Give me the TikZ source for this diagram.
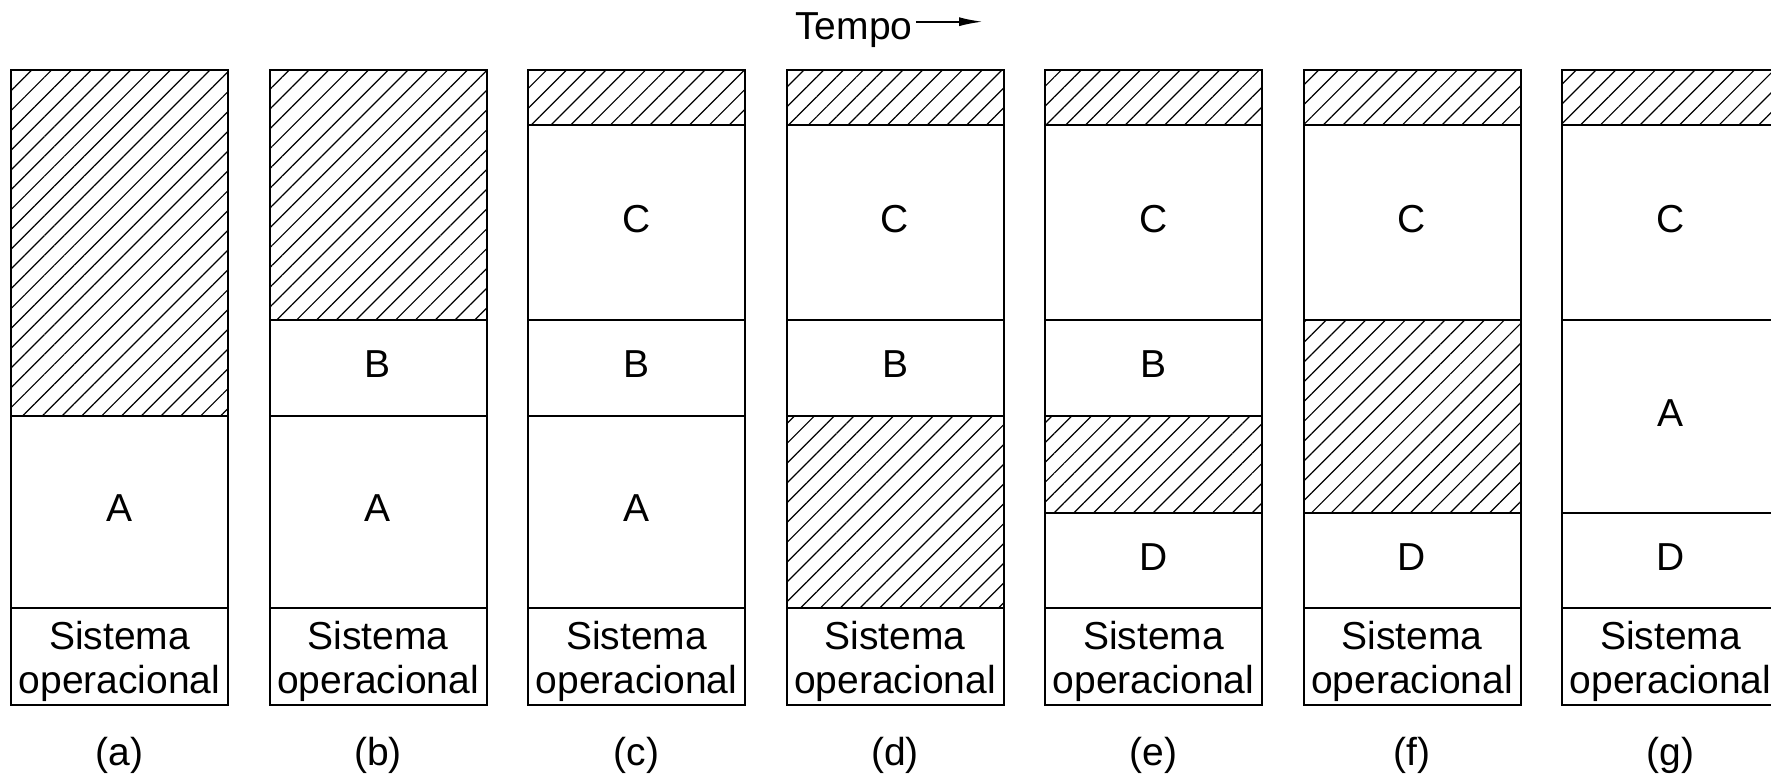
\documentclass[tikz,border=0pt]{standalone}
\usepackage{fontspec}
\setmainfont{Liberation Sans}
\usetikzlibrary{positioning,patterns.meta,arrows.meta}

\begin{document}
\begin{tikzpicture}[
    font=\fontsize{19.5}{22}\selectfont,
    % Define styles for the memory blocks
    seg/.style={
        rectangle,
        draw,
        line width=1pt,
        minimum width=108.5pt,
        inner sep=0pt,
        outer sep=0pt,
        text centered
    },
    proc/.style={
        seg,
        text depth=3.4pt
    },
    livre/.style={
        seg,
        pattern={Lines[angle=45,distance=7pt,line width=0.6pt]}
    },
    so/.style={
        seg,
        minimum height=48.5pt,
        align=center
    },
    rotulo/.style={
        anchor=base,
        inner sep=0pt
    },
    seta/.style={
        draw,
        line width=1pt,
        -{Latex[length=12pt,width=4.5pt]}
    }
]
\useasboundingbox (0,0) rectangle (885.5pt,-387.5pt);

% Time arrow
\node[anchor=base west, inner sep=1.5pt] (tempo) at (396pt,-20pt) {Tempo};
\coordinate (tempofim) at (491.5pt,-10.85pt);
\draw[seta] (tempo.east |- tempofim) -- (tempofim);

% (a)
\node[livre, minimum height=172.75pt, anchor=north west] (a1) at (5.5pt,-35pt) {};
\node[proc, minimum height=96.25pt, below=0pt of a1] (a2) {A};
\node[so, below=0pt of a2] (a3) {\rule{0pt}{19.4pt}Sistema\\operacional};
\node[below=30pt of a3, rotulo] (la) {(a)};

% (b)
\node[livre, minimum height=124.75pt, right=20.75pt of a1.north east, anchor=north west] (b1) {};
\node[proc, minimum height=48pt, below=0pt of b1] (b2) {B};
\node[proc, minimum height=96.25pt, below=0pt of b2] (b3) {A};
\node[so, below=0pt of b3] (b4) {\rule{0pt}{19.4pt}Sistema\\operacional};
\node[below=30pt of b4, rotulo] (lb) {(b)};

% (c)
\node[livre, minimum height=27.75pt, right=20.75pt of b1.north east, anchor=north west] (c1) {};
\node[proc, minimum height=97pt, below=0pt of c1] (c2) {C};
\node[proc, minimum height=48pt, below=0pt of c2] (c3) {B};
\node[proc, minimum height=96.25pt, below=0pt of c3] (c4) {A};
\node[so, below=0pt of c4] (c5) {\rule{0pt}{19.4pt}Sistema\\operacional};
\node[below=30pt of c5, rotulo] (lc) {(c)};

% (d)
\node[livre, minimum height=27.75pt, right=20.75pt of c1.north east, anchor=north west] (d1) {};
\node[proc, minimum height=97pt, below=0pt of d1] (d2) {C};
\node[proc, minimum height=48pt, below=0pt of d2] (d3) {B};
\node[livre, minimum height=96.25pt, below=0pt of d3] (d4) {};
\node[so, below=0pt of d4] (d5) {\rule{0pt}{19.4pt}Sistema\\operacional};
\node[below=30pt of d5, rotulo] (ld) {(d)};

% (e)
\node[livre, minimum height=27.75pt, right=20.75pt of d1.north east, anchor=north west] (e1) {};
\node[proc, minimum height=97pt, below=0pt of e1] (e2) {C};
\node[proc, minimum height=48pt, below=0pt of e2] (e3) {B};
\node[livre, minimum height=48.75pt, below=0pt of e3] (e4) {};
\node[proc, minimum height=47.5pt, below=0pt of e4] (e5) {D};
\node[so, below=0pt of e5] (e6) {\rule{0pt}{19.4pt}Sistema\\operacional};
\node[below=30pt of e6, rotulo] (le) {(e)};

% (f)
\node[livre, minimum height=27.75pt, right=20.75pt of e1.north east, anchor=north west] (f1) {};
\node[proc, minimum height=97pt, below=0pt of f1] (f2) {C};
\node[livre, minimum height=96.75pt, below=0pt of f2] (f3) {};
\node[proc, minimum height=47.5pt, below=0pt of f3] (f4) {D};
\node[so, below=0pt of f4] (f5) {\rule{0pt}{19.4pt}Sistema\\operacional};
\node[below=30pt of f5, rotulo] (lf) {(f)};

% (g)
\node[livre, minimum height=27.75pt, right=20.75pt of f1.north east, anchor=north west] (g1) {};
\node[proc, minimum height=97pt, below=0pt of g1] (g2) {C};
\node[proc, minimum height=96.75pt, below=0pt of g2] (g3) {A};
\node[proc, minimum height=47.5pt, below=0pt of g3] (g4) {D};
\node[so, below=0pt of g4] (g5) {\rule{0pt}{19.4pt}Sistema\\operacional};
\node[below=30pt of g5, rotulo] (lg) {(g)};

\end{tikzpicture}
\end{document}
